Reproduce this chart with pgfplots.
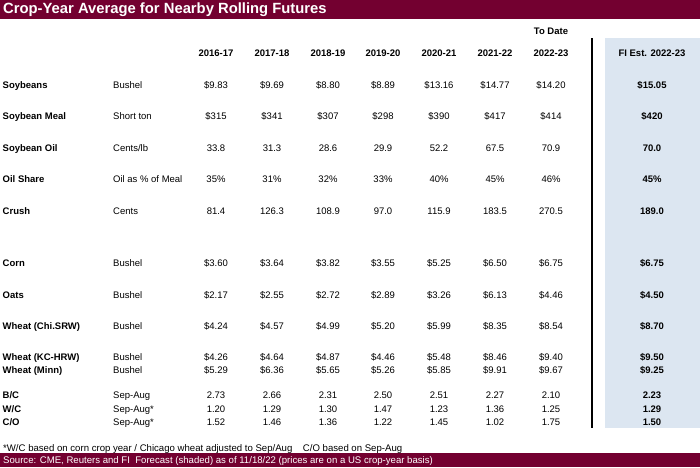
\documentclass[border=0pt]{standalone}
\usepackage{pgfplots}
\usepackage{pgfplotstable}
\pgfplotsset{compat=1.18}
\usepackage{fontspec}
\setmainfont{Liberation Sans}
\definecolor{maroon}{RGB}{115,0,48}
\definecolor{shade}{RGB}{220,230,241}

\pgfplotstableread[col sep=comma]{
y,name,unit,a,b,c,d,e,f,g,h
85.7,Soybeans,Bushel,\$9.83,\$9.69,\$8.80,\$8.89,\$13.16,\$14.77,\$14.20,\$15.05
116.7,Soybean Meal,Short ton,\$315,\$341,\$307,\$298,\$390,\$417,\$414,\$420
149,Soybean Oil,Cents/lb,33.8,31.3,28.6,29.9,52.2,67.5,70.9,70.0
179.5,Oil Share,Oil as \% of Meal,35\%,31\%,32\%,33\%,40\%,45\%,46\%,45\%
211.7,Crush,Cents,81.4,126.3,108.9,97.0,115.9,183.5,270.5,189.0
263.7,Corn,Bushel,\$3.60,\$3.64,\$3.82,\$3.55,\$5.25,\$6.50,\$6.75,\$6.75
295.7,Oats,Bushel,\$2.17,\$2.55,\$2.72,\$2.89,\$3.26,\$6.13,\$4.46,\$4.50
326.7,Wheat (Chi.SRW),Bushel,\$4.24,\$4.57,\$4.99,\$5.20,\$5.99,\$8.35,\$8.54,\$8.70
357.7,Wheat (KC-HRW),Bushel,\$4.26,\$4.64,\$4.87,\$4.46,\$5.48,\$8.46,\$9.40,\$9.50
370.7,Wheat (Minn),Bushel,\$5.29,\$6.36,\$5.65,\$5.26,\$5.85,\$9.91,\$9.67,\$9.25
396.3,B/C,Sep-Aug,2.73,2.66,2.31,2.50,2.51,2.27,2.10,2.23
409.5,W/C,Sep-Aug*,1.20,1.29,1.30,1.47,1.23,1.36,1.25,1.29
422.7,C/O,Sep-Aug*,1.52,1.46,1.36,1.22,1.45,1.02,1.75,1.50
}\datatable

\newcommand{\bodyfont}{\fontsize{9.5}{11}\selectfont}

\begin{document}
\begin{tikzpicture}
\begin{axis}[
  hide axis, scale only axis,
  width=700pt, height=467pt,
  xmin=0, xmax=700, ymin=0, ymax=467,
  y dir=reverse, clip=false,
  every node near coord/.append style={inner sep=0pt, font=\bodyfont, text=black, text height=7pt, text depth=2pt},
]
% background areas
\addplot[fill=maroon, draw=none] coordinates {(0,0)(700,0)(700,18.5)(0,18.5)} -- cycle;
\addplot[fill=shade, draw=none] coordinates {(605,38)(700,38)(700,428)(605,428)} -- cycle;
\addplot[fill=maroon, draw=none] coordinates {(0,453)(700,453)(700,467)(0,467)} -- cycle;
\addplot[black, line width=1.3pt] coordinates {(592,38)(592,428)};

% row labels
\addplot[only marks, mark=*, mark size=0pt, nodes near coords, point meta=explicit symbolic,
  every node near coord/.append style={anchor=west, font=\bodyfont\bfseries}]
  table[x expr=2.5, y=y, meta=name] {\datatable};
\addplot[only marks, mark=*, mark size=0pt, nodes near coords, point meta=explicit symbolic,
  every node near coord/.append style={anchor=west}]
  table[x expr=113, y=y, meta=unit] {\datatable};
% data columns
\addplot[only marks, mark=*, mark size=0pt, nodes near coords, point meta=explicit symbolic,
  every node near coord/.append style={anchor=center}] table[x expr=216, y=y, meta=a] {\datatable};
\addplot[only marks, mark=*, mark size=0pt, nodes near coords, point meta=explicit symbolic,
  every node near coord/.append style={anchor=center}] table[x expr=272, y=y, meta=b] {\datatable};
\addplot[only marks, mark=*, mark size=0pt, nodes near coords, point meta=explicit symbolic,
  every node near coord/.append style={anchor=center}] table[x expr=328, y=y, meta=c] {\datatable};
\addplot[only marks, mark=*, mark size=0pt, nodes near coords, point meta=explicit symbolic,
  every node near coord/.append style={anchor=center}] table[x expr=383, y=y, meta=d] {\datatable};
\addplot[only marks, mark=*, mark size=0pt, nodes near coords, point meta=explicit symbolic,
  every node near coord/.append style={anchor=center}] table[x expr=439, y=y, meta=e] {\datatable};
\addplot[only marks, mark=*, mark size=0pt, nodes near coords, point meta=explicit symbolic,
  every node near coord/.append style={anchor=center}] table[x expr=495, y=y, meta=f] {\datatable};
\addplot[only marks, mark=*, mark size=0pt, nodes near coords, point meta=explicit symbolic,
  every node near coord/.append style={anchor=center}] table[x expr=551, y=y, meta=g] {\datatable};
\addplot[only marks, mark=*, mark size=0pt, nodes near coords, point meta=explicit symbolic,
  every node near coord/.append style={anchor=center, font=\bodyfont\bfseries}] table[x expr=652, y=y, meta=h] {\datatable};

% titles and headers
\node[anchor=west, inner sep=0pt, text=white, font=\fontsize{14.8}{16}\selectfont\bfseries, text height=10pt, text depth=3pt] at (axis cs:3,9.5) {Crop-Year Average for Nearby Rolling Futures};
\node[inner sep=0pt, font=\bodyfont\bfseries, text height=7pt, text depth=2pt] at (axis cs:551,32) {To Date};
\node[inner sep=0pt, font=\bodyfont\bfseries, text height=7pt, text depth=2pt] at (axis cs:216,53.5) {2016-17};
\node[inner sep=0pt, font=\bodyfont\bfseries, text height=7pt, text depth=2pt] at (axis cs:272,53.5) {2017-18};
\node[inner sep=0pt, font=\bodyfont\bfseries, text height=7pt, text depth=2pt] at (axis cs:328,53.5) {2018-19};
\node[inner sep=0pt, font=\bodyfont\bfseries, text height=7pt, text depth=2pt] at (axis cs:383,53.5) {2019-20};
\node[inner sep=0pt, font=\bodyfont\bfseries, text height=7pt, text depth=2pt] at (axis cs:439,53.5) {2020-21};
\node[inner sep=0pt, font=\bodyfont\bfseries, text height=7pt, text depth=2pt] at (axis cs:495,53.5) {2021-22};
\node[inner sep=0pt, font=\bodyfont\bfseries, text height=7pt, text depth=2pt] at (axis cs:551,53.5) {2022-23};
\node[inner sep=0pt, font=\bodyfont\bfseries, text height=7pt, text depth=2pt] at (axis cs:652,53.5) {FI Est. 2022-23};
\node[anchor=west, inner sep=0pt, font=\fontsize{9.6}{10}\selectfont, text height=7pt, text depth=2pt] at (axis cs:3,448.5) {*W/C based on corn crop year / Chicago wheat adjusted to Sep/Aug\hspace{1.1em}C/O based on Sep-Aug};
\node[anchor=west, inner sep=0pt, text=white, font=\fontsize{9.6}{10}\selectfont, text height=7pt, text depth=2pt] at (axis cs:3,460.5) {Source: CME, Reuters and FI\ \ Forecast (shaded) as of 11/18/22 (prices are on a US crop-year basis)};
\end{axis}
\end{tikzpicture}
\end{document}
